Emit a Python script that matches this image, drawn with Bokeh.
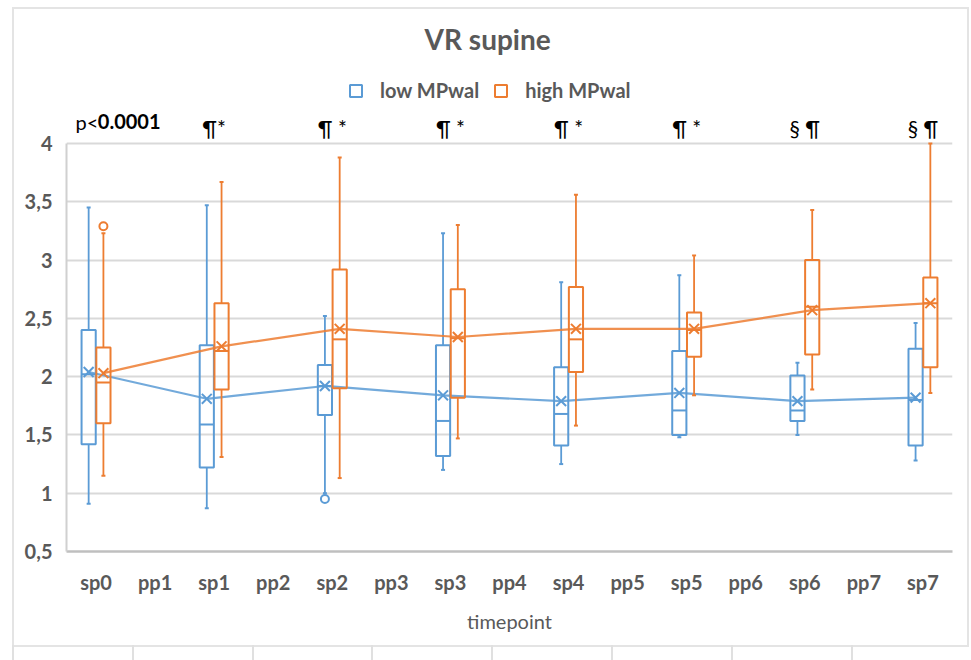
from bokeh.plotting import figure
from bokeh.models import (ColumnDataSource, FactorRange, Range1d, FixedTicker, Legend,
                          LegendItem, InlineStyleSheet)
from bokeh.transform import dodge
from bokeh.core.properties import value
from bokeh.embed import file_html
from bokeh.resources import INLINE

# ---------------- data ----------------
categories = ["sp0", "pp1", "sp1", "pp2", "sp2", "pp3", "sp3", "pp4",
              "sp4", "pp5", "sp5", "pp6", "sp6", "pp7", "sp7"]
sp_cats = ["sp0", "sp1", "sp2", "sp3", "sp4", "sp5", "sp6", "sp7"]

# low MPwal (blue)
low_wmin = [0.91, 0.87, 1.00, 1.20, 1.25, 1.48, 1.50, 1.28]
low_q1   = [1.42, 1.22, 1.67, 1.32, 1.41, 1.50, 1.62, 1.41]
low_med  = [2.02, 1.59, 1.92, 1.62, 1.68, 1.71, 1.71, 1.80]
low_q3   = [2.40, 2.27, 2.10, 2.27, 2.08, 2.22, 2.01, 2.24]
low_wmax = [3.45, 3.47, 2.52, 3.23, 2.81, 2.87, 2.12, 2.46]
low_mean = [2.04, 1.81, 1.92, 1.84, 1.79, 1.86, 1.79, 1.82]
low_out_cat = ["sp2"]
low_out_val = [0.95]

# high MPwal (orange)
high_wmin = [1.15, 1.31, 1.13, 1.47, 1.58, 1.84, 1.89, 1.86]
high_q1   = [1.60, 1.89, 1.90, 1.82, 2.04, 2.17, 2.19, 2.08]
high_med  = [1.95, 2.22, 2.32, 2.33, 2.32, 2.40, 2.60, 2.63]
high_q3   = [2.25, 2.63, 2.92, 2.75, 2.77, 2.55, 3.00, 2.85]
high_wmax = [3.23, 3.67, 3.88, 3.30, 3.56, 3.04, 3.43, 4.00]
high_mean = [2.03, 2.26, 2.41, 2.34, 2.41, 2.41, 2.57, 2.63]
high_out_cat = ["sp0"]
high_out_val = [3.29]

y_ticks = [0.5, 1, 1.5, 2, 2.5, 3, 3.5, 4]
y_tick_labels = ["0,5", "1", "1,5", "2", "2,5", "3", "3,5", "4"]

ann_cats = ["sp1", "sp2", "sp3", "sp4", "sp5", "sp6", "sp7"]
ann_texts = ["¶*", "¶ *", "¶ *", "¶ *", "¶ *", "§ ¶", "§ ¶"]

series_names = ["low MPwal", "high MPwal"]

# ---------------- style ----------------
BLUE = "#5B9BD5"
ORANGE = "#ED7D31"
GREY_TXT = "#595959"
FONT = "Lato"
PX_PER_UNIT = 408 / 3.5          # vertical scale of the plot area
Y_TOP = 4 + 143 / PX_PER_UNIT    # frame starts at the top of the canvas

# light frame of the chart area and the table rules below it (page decoration)
deco = InlineStyleSheet(css="""
:host { position: relative; }
:host::after {
  content: ""; position: absolute; left: 12px; top: 7px; width: 953px; height: 636px;
  border: 2px solid #e4e4e4; pointer-events: none;
}
:host::before {
  content: ""; position: absolute; left: 12px; top: 645px; width: 957px; height: 15px;
  background: repeating-linear-gradient(to right, #e0e0e0 0px, #e0e0e0 2px,
              transparent 2px, transparent 119.8px);
  pointer-events: none; z-index: 1;
}
""")

p = figure(width=971, height=660,
           x_range=FactorRange(*categories),
           y_range=Range1d(0.5, Y_TOP),
           output_backend="svg", toolbar_location=None,
           min_border_left=66, min_border_right=19,
           min_border_top=0, min_border_bottom=109,
           stylesheets=[deco])
p.outline_line_color = None
p.background_fill_color = "white"
p.border_fill_color = "white"

# axes
p.yaxis.ticker = FixedTicker(ticks=y_ticks)
p.yaxis.major_label_overrides = {t: l for t, l in zip(y_ticks, y_tick_labels)}
p.yaxis.bounds = (0.5, 4)
p.yaxis.axis_line_color = "#d0d0d0"
p.yaxis.axis_line_width = 2
p.yaxis.major_tick_line_color = None
p.yaxis.minor_tick_line_color = None
p.yaxis.major_label_standoff = 8
p.yaxis.major_label_text_font = FONT
p.yaxis.major_label_text_font_style = "bold"
p.yaxis.major_label_text_font_size = "20px"
p.yaxis.major_label_text_color = GREY_TXT

p.xaxis.axis_line_color = "#bfbfbf"
p.xaxis.axis_line_width = 2.5
p.xaxis.major_tick_line_color = None
p.xaxis.minor_tick_line_color = None
p.xaxis.major_label_standoff = 12
p.xaxis.major_label_text_font = FONT
p.xaxis.major_label_text_font_style = "bold"
p.xaxis.major_label_text_font_size = "20px"
p.xaxis.major_label_text_color = GREY_TXT
p.xaxis.axis_label = "timepoint"
p.xaxis.axis_label_text_font = FONT
p.xaxis.axis_label_text_font_style = "normal"
p.xaxis.axis_label_text_font_size = "20px"
p.xaxis.axis_label_text_color = GREY_TXT
p.xaxis.axis_label_standoff = 12

p.xgrid.grid_line_color = None
p.ygrid.ticker = FixedTicker(ticks=y_ticks)
p.ygrid.grid_line_color = "#d9d9d9"
p.ygrid.grid_line_width = 1.8

OFF = 0.125
HALF = 0.12
box_renderers = []
for name, color, off, wmin, q1, med, q3, wmax, mean, ocat, oval in [
    (series_names[0], BLUE, -OFF, low_wmin, low_q1, low_med, low_q3, low_wmax, low_mean, low_out_cat, low_out_val),
    (series_names[1], ORANGE, OFF, high_wmin, high_q1, high_med, high_q3, high_wmax, high_mean, high_out_cat, high_out_val),
]:
    src = ColumnDataSource(dict(cat=sp_cats, wmin=wmin, q1=q1, med=med, q3=q3, wmax=wmax, mean=mean))
    xc = dodge("cat", off, range=p.x_range)
    # whiskers
    p.segment(x0=xc, y0="q3", x1=xc, y1="wmax", source=src, line_color=color, line_width=1.8)
    p.segment(x0=xc, y0="q1", x1=xc, y1="wmin", source=src, line_color=color, line_width=1.8)
    p.scatter(x=xc, y="wmax", source=src, marker="dash", size=4, line_color=color, line_width=2)
    p.scatter(x=xc, y="wmin", source=src, marker="dash", size=4, line_color=color, line_width=2)
    # box
    r = p.vbar(x=xc, width=2 * HALF, top="q3", bottom="q1", source=src,
               fill_alpha=0, line_color=color, line_width=2)
    box_renderers.append(r)
    # median
    p.segment(x0=dodge("cat", off - HALF, range=p.x_range), y0="med",
              x1=dodge("cat", off + HALF, range=p.x_range), y1="med",
              source=src, line_color=color, line_width=2)
    # mean line and mean markers
    p.line(x=xc, y="mean", source=src, line_color=color, line_width=2.2, line_alpha=0.85)
    p.scatter(x=xc, y="mean", source=src, marker="x", size=14, line_color=color, line_width=2)
    # outliers
    osrc = ColumnDataSource(dict(cat=ocat, val=oval))
    p.scatter(x=dodge("cat", off, range=p.x_range), y="val", source=osrc, marker="circle",
              size=8, fill_color="white", line_color=color, line_width=2)

# legend
legend = Legend(items=[LegendItem(label=series_names[0], renderers=[box_renderers[0]]),
                       LegendItem(label=series_names[1], renderers=[box_renderers[1]])],
                orientation="horizontal", location=(282, 449),
                glyph_width=15, glyph_height=15, label_standoff=17, spacing=14,
                padding=0, margin=0, border_line_color=None, background_fill_alpha=0,
                label_text_font=FONT, label_text_font_style="bold",
                label_text_font_size="20px", label_text_color=GREY_TXT)
p.add_layout(legend)

# title
p.text(x=[7.13], y=[4 + 105 / PX_PER_UNIT], text=["VR supine"], text_align="center",
       text_baseline="middle", text_font=value(FONT), text_font_style="bold",
       text_font_size="28px", text_color=GREY_TXT)

# significance annotations
asrc = ColumnDataSource(dict(cat=ann_cats, txt=ann_texts))
p.text(x="cat", y=4 + 16 / PX_PER_UNIT, text="txt", source=asrc, text_align="center",
       text_baseline="middle", text_font=value(FONT), text_font_size="21px", text_color="black")
p.text(x=[0.152], y=[4 + 22 / PX_PER_UNIT], text=["p<"], text_align="left",
       text_baseline="middle", text_font=value(FONT), text_font_size="20px", text_color="black")
p.text(x=[0.53], y=[4 + 22 / PX_PER_UNIT], text=["0.0001"], text_align="left",
       text_baseline="middle", text_font=value(FONT), text_font_style="bold",
       text_font_size="20px", text_color="black")

open("out.html", "w").write(file_html(p, INLINE))
